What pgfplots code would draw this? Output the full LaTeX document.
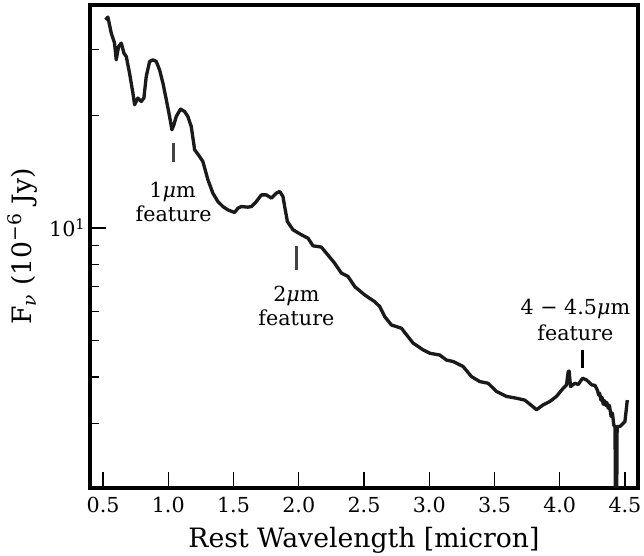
\documentclass[border=0pt]{standalone}
\usepackage{fontspec}
\setmainfont{DejaVu Serif}
\usepackage{pgfplots}
\pgfplotsset{compat=1.18}

% traced spectrum: rest wavelength (micron), F_nu (1e-6 Jy)
\pgfplotstableread{
lam F
0.519 36.06
0.537 36.66
0.563 33.22
0.588 31.24
0.601 28.18
0.619 30.59
0.640 31.24
0.660 29.37
0.678 28.76
0.703 25.97
0.729 22.96
0.742 21.37
0.767 22.27
0.793 21.81
0.813 22.27
0.831 25.43
0.857 27.90
0.882 28.18
0.908 27.90
0.933 26.50
0.959 24.42
0.985 22.03
1.010 19.88
1.028 18.32
1.043 18.89
1.061 19.88
1.094 20.81
1.125 20.50
1.150 19.88
1.176 18.70
1.202 16.20
1.240 15.54
1.265 15.07
1.304 13.46
1.342 12.40
1.380 11.78
1.419 11.42
1.457 11.19
1.508 11.01
1.534 11.31
1.560 11.42
1.610 11.38
1.637 11.42
1.675 11.78
1.713 12.27
1.752 12.27
1.790 12.03
1.828 12.40
1.854 12.53
1.879 12.15
1.892 11.42
1.913 10.41
1.956 9.90
2.020 9.60
2.071 9.40
2.109 8.97
2.173 8.90
2.212 8.57
2.275 8.06
2.327 7.58
2.377 7.43
2.429 6.98
2.505 6.63
2.582 6.36
2.621 6.17
2.659 5.80
2.710 5.51
2.787 5.40
2.837 5.13
2.876 4.93
2.952 4.73
3.004 4.63
3.080 4.58
3.132 4.44
3.183 4.40
3.259 4.27
3.324 4.01
3.387 3.89
3.451 3.85
3.515 3.66
3.592 3.55
3.669 3.51
3.732 3.47
3.796 3.33
3.822 3.27
3.873 3.37
3.924 3.44
3.975 3.55
4.026 3.73
4.052 3.81
4.065 4.13
4.072 4.15
4.083 3.77
4.116 3.85
4.142 3.82
4.175 3.97
4.205 3.93
4.246 3.81
4.270 3.80
4.290 3.68
4.298 3.58
4.306 3.62
4.316 3.47
4.324 3.53
4.334 3.38
4.343 3.46
4.352 3.36
4.361 3.42
4.372 3.30
4.381 3.36
4.394 3.14
4.404 3.20
4.415 2.97
4.424 2.95
4.432 1.00
4.440 2.95
4.462 2.95
4.500 3.04
4.518 3.47
}\spec

\definecolor{speccol}{HTML}{1A1A1A}
\definecolor{markgray}{HTML}{444444}

\begin{document}
\begin{tikzpicture}
\begin{axis}[
    at={(0,0)}, anchor=south west,
    width=411pt, height=362.25pt, scale only axis,
    ymode=log,
    xmin=0.4, xmax=4.6,
    ymin=2.02, ymax=39.5,
    xtick={0.5,1.0,...,4.5},
    ytick={10},
    yticklabels={10\textsuperscript{1}},
    minor ytick={3,4,5,6,7,8,9,20,30},
    tick pos=left,
    tick align=inside,
    major tick length=12pt,
    minor tick length=6.4pt,
    major tick style={line width=1.1pt, black},
    minor tick style={line width=0.9pt, black},
    axis line style={line width=3.4pt, black},
    /pgf/number format/assume math mode=true,
    /pgf/number format/.cd, fixed, fixed zerofill, precision=1, /pgfplots/.cd,
    ticklabel style={font=\fontsize{15.5}{18}\selectfont},
    xticklabel style={anchor=base, yshift=-18.75pt},
    xlabel={Rest Wavelength [micron]},
    ylabel={F\textsubscript{\itshape ν} (10\textsuperscript{−6} Jy)},
    label style={font=\fontsize{20}{24}\selectfont},
    xlabel style={at={(axis description cs:0.5,0)}, anchor=base, yshift=-45pt},
    ylabel style={at={(axis description cs:0,0.5)}, anchor=base, yshift=43.7pt},
]
\addplot[speccol, line width=2.5pt, line join=round] table[x=lam, y=F] {\spec};

\draw[markgray, line width=2.4pt] (axis cs:1.041,15.07) -- (axis cs:1.041,16.94);
\draw[markgray, line width=2.4pt] (axis cs:1.982,7.73) -- (axis cs:1.982,8.97);
\draw[black, line width=2.4pt] (axis cs:4.175,4.22) -- (axis cs:4.175,4.71);

\begin{scope}[every node/.style={font=\fontsize{15.5}{18}\selectfont, anchor=base, inner sep=0pt}]
\node at (axis cs:1.033,12.05) {1{\itshape μ}m};
\node at (axis cs:1.041,10.41) {feature};
\node at (axis cs:1.982,6.36) {2{\itshape μ}m};
\node at (axis cs:1.982,5.49) {feature};
\node at (axis cs:4.120,5.86) {4 − 4.5{\itshape μ}m};
\node at (axis cs:4.120,5.02) {feature};
\end{scope}
\end{axis}
\pgfresetboundingbox
\path (-67.5pt,-51pt) rectangle (415.5pt,366pt);
\end{tikzpicture}
\end{document}
